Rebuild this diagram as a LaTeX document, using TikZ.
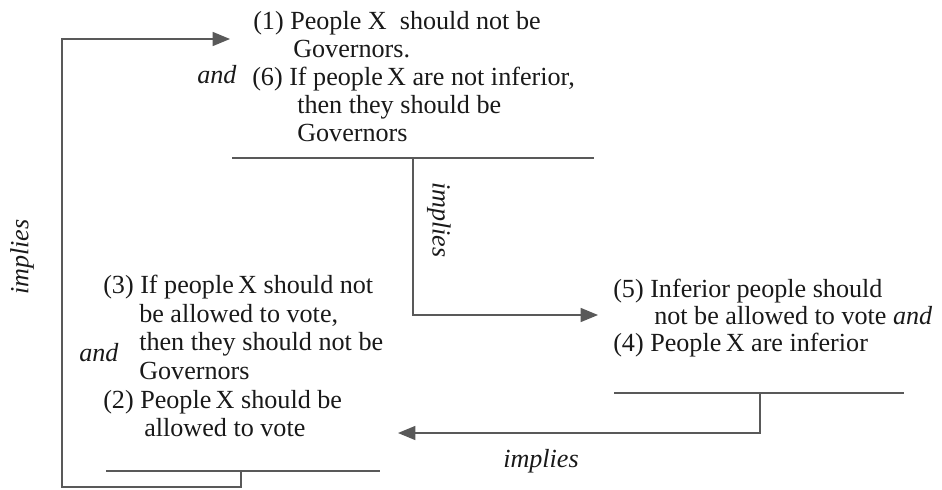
\documentclass[tikz,border=0pt]{standalone}
\usepackage{fontspec}
\setmainfont{Liberation Serif}
\usetikzlibrary{arrows.meta}

\begin{document}
\begin{tikzpicture}[x=0.75pt, y=-0.75pt,
	txt/.style={anchor=base west, inner sep=0pt, text=black!90, font=\fontsize{19.6}{21}\selectfont},
	conj/.style={txt, font=\fontsize{19.6}{21}\selectfont\itshape},
	link/.style={draw=black!65, line width=1pt},
	arr/.style={link, -{Triangle[length=13pt, width=10.5pt]}}]
	\useasboundingbox (0,0) rectangle (942,489);
	
	\node[txt] (p1a) at (253,29) {(1) People X\ \ should not be};
	\node[txt] (p1b) at (293,57) {Governors.};
	\node[conj] (and1) at (197,83) {and};
	\node[txt] (p6a) at (252,85) {(6) If people\,X are not inferior,};
	\node[txt] (p6b) at (297,113) {then they should be};
	\node[txt] (p6c) at (297,141) {Governors};
	
	\node[txt] (p3a) at (103,293) {(3) If people\,X should not};
	\node[txt] (p3b) at (139,322) {be allowed to vote,};
	\node[txt] (p3c) at (139,350) {then they should not be};
	\node[conj] (and2) at (79,361) {and};
	\node[txt] (p3d) at (139,379) {Governors};
	\node[txt] (p2a) at (103,408) {(2) People\,X should be};
	\node[txt] (p2b) at (144,436) {allowed to vote};
	
	\node[txt] (p5a) at (613,297) {(5) Inferior people should};
	\node[txt] (p5b) at (654,324) {not be allowed to vote \textit{and}};
	\node[txt] (p4) at (613,351) {(4) People\,X are inferior};
	
	\node[conj, anchor=center, rotate=90] (impA) at (22,257) {implies};
	\node[conj, anchor=center, rotate=-90] (impB) at (439,220) {implies};
	\node[conj, anchor=center] (impC) at (541,461) {implies};
	
	\coordinate (topbarW) at (232,158);
	\coordinate (topbarE) at (594,158);
	\coordinate (topstem) at (413,158);
	\coordinate (midturn) at (413,315);
	\coordinate (midtip) at (598,315);
	
	\coordinate (rbarW) at (614,393);
	\coordinate (rbarE) at (904,393);
	\coordinate (rstem) at (760,393);
	\coordinate (rturn) at (760,433);
	\coordinate (lowtip) at (398,433);
	
	\coordinate (lbarW) at (106,471);
	\coordinate (lbarE) at (380,471);
	\coordinate (lstem) at (241,471);
	\coordinate (lcornerR) at (241,487);
	\coordinate (lcornerL) at (62,487);
	\coordinate (topcorner) at (62,39);
	\coordinate (toptip) at (230,39);
	
	\draw[link] (topbarW) -- (topbarE);
	\draw[arr] (topstem) -- (midturn) -- (midtip);
	
	\draw[link] (rbarW) -- (rbarE);
	\draw[arr] (rstem) -- (rturn) -- (lowtip);
	
	\draw[link] (lbarW) -- (lbarE);
	\draw[arr] (lstem) -- (lcornerR) -- (lcornerL) -- (topcorner) -- (toptip);
	
\end{tikzpicture}
\end{document}
